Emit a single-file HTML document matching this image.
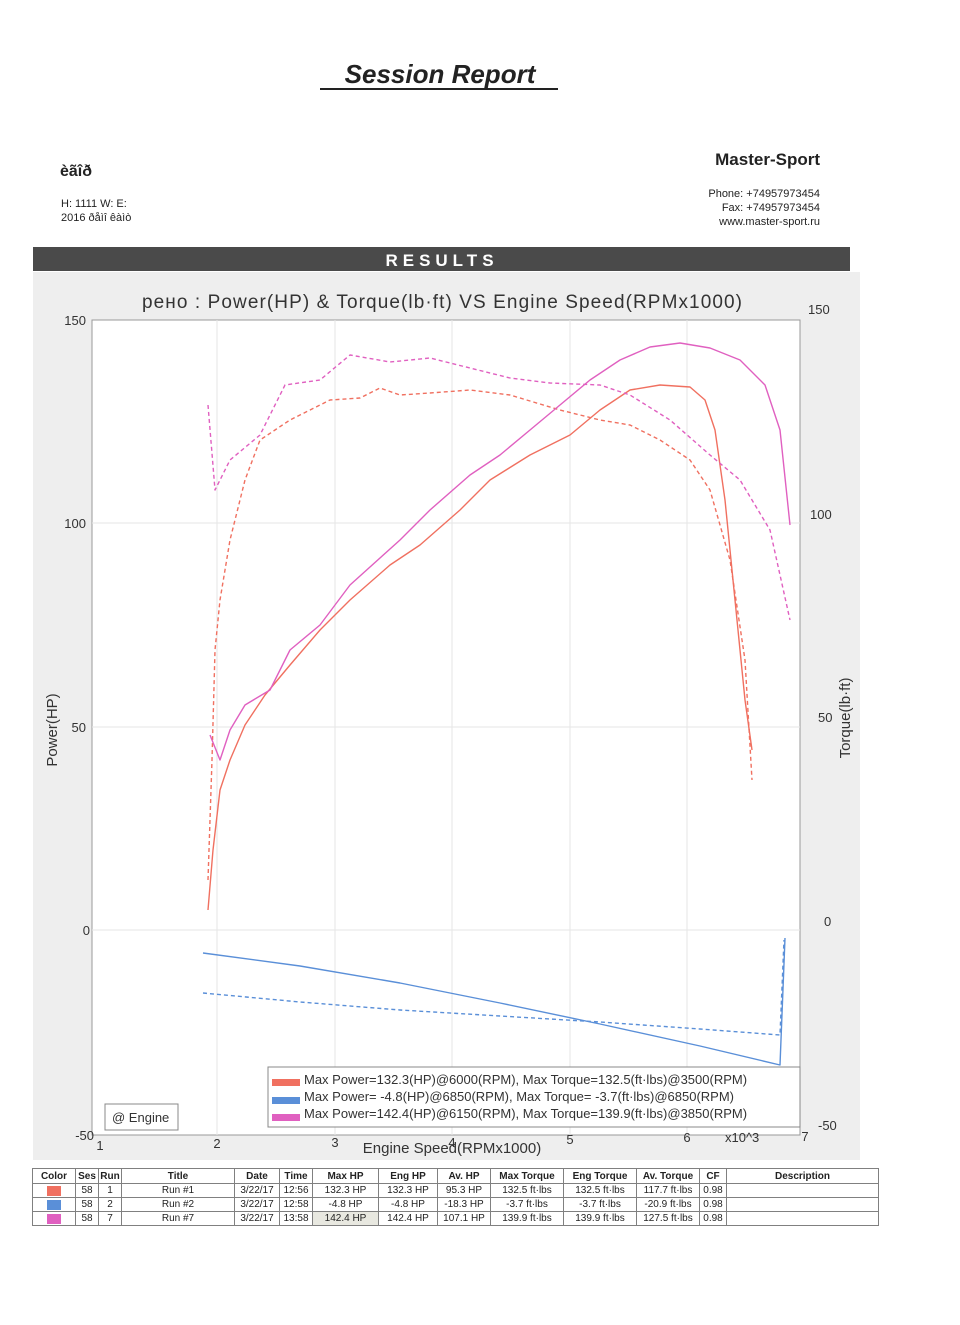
<!DOCTYPE html>
<html><head><meta charset="utf-8"><style>
html,body{margin:0;padding:0;background:#fff}
body{width:960px;height:1320px;position:relative;overflow:hidden;font-family:"Liberation Sans","DejaVu Sans",sans-serif}
td{padding:0 1px;white-space:nowrap;overflow:hidden}
</style></head><body>
<svg width="960" height="1320" viewBox="0 0 960 1320" xmlns="http://www.w3.org/2000/svg" font-family="Liberation Sans, DejaVu Sans, sans-serif">
<text x="440" y="83" font-size="26" font-weight="bold" font-style="italic" text-anchor="middle" fill="#222">Session Report</text>
<line x1="320" y1="89" x2="558" y2="89" stroke="#222" stroke-width="2"/>
<text x="60" y="176" font-size="16" font-weight="bold" fill="#222">èãîð</text>
<text x="61" y="207" font-size="11" fill="#222">H: 1111    W:       E:</text>
<text x="61" y="221" font-size="11" fill="#222">2016 ðåìî êàìò</text>
<text x="820" y="165" font-size="17" font-weight="bold" text-anchor="end" fill="#222">Master-Sport</text>
<text x="820" y="197" font-size="11" text-anchor="end" fill="#222">Phone: +74957973454</text>
<text x="820" y="211" font-size="11" text-anchor="end" fill="#222">Fax:    +74957973454</text>
<text x="820" y="225" font-size="11" text-anchor="end" fill="#222">www.master-sport.ru</text>
<rect x="33" y="247" width="817" height="24" fill="#4a4a4a"/>
<text x="442" y="266" font-size="17" font-weight="bold" letter-spacing="5" text-anchor="middle" fill="#fff">RESULTS</text>
<rect x="33" y="272" width="827" height="888" fill="#eeeeee"/>
<rect x="92" y="320" width="708" height="815" fill="#fff" stroke="#999" stroke-width="1"/>
<text x="442" y="308" font-size="19" text-anchor="middle" fill="#333" textLength="600">рено : Power(HP) &amp; Torque(lb·ft) VS Engine Speed(RPMx1000)</text>
<g stroke="#e6e6e6" stroke-width="1">
<line x1="92" y1="523" x2="800" y2="523"/><line x1="92" y1="727" x2="800" y2="727"/><line x1="92" y1="930" x2="800" y2="930"/>
<line x1="217" y1="320" x2="217" y2="1135"/><line x1="335" y1="320" x2="335" y2="1135"/><line x1="452" y1="320" x2="452" y2="1135"/><line x1="570" y1="320" x2="570" y2="1135"/><line x1="687" y1="320" x2="687" y2="1135"/>
</g>
<g font-size="13" fill="#333">
<text x="86" y="325" text-anchor="end">150</text><text x="86" y="528" text-anchor="end">100</text><text x="86" y="732" text-anchor="end">50</text><text x="90" y="935" text-anchor="end">0</text><text x="94" y="1140" text-anchor="end">-50</text>
<text x="808" y="314">150</text><text x="810" y="519">100</text><text x="818" y="722">50</text><text x="824" y="926">0</text><text x="818" y="1130">-50</text>
<text x="100" y="1150" text-anchor="middle">1</text><text x="217" y="1148" text-anchor="middle">2</text><text x="335" y="1147" text-anchor="middle">3</text><text x="570" y="1144" text-anchor="middle">5</text><text x="687" y="1142" text-anchor="middle">6</text><text x="805" y="1141" text-anchor="middle">7</text>
<text x="725" y="1142">x10^3</text>
</g>
<text x="452" y="1153" font-size="15" text-anchor="middle" fill="#333">Engine Speed(RPMx1000)</text>
<text x="452" y="1147" font-size="13" text-anchor="middle" fill="#333">4</text>
<text transform="translate(57,730) rotate(-90)" font-size="15" text-anchor="middle" fill="#333">Power(HP)</text>
<text transform="translate(850,718) rotate(-90)" font-size="15" text-anchor="middle" fill="#333">Torque(lb·ft)</text>
<g fill="none" stroke-width="1.4" stroke-linejoin="round">
<polyline stroke="#f07060" points="208,910 213,850 220,790 230,760 245,725 265,695 290,665 320,630 350,600 390,565 420,545 460,510 490,480 530,455 570,435 600,410 630,390 660,385 690,387 705,400 715,430 725,500 735,600 745,700 752,750"/>
<polyline stroke="#f07060" stroke-dasharray="4,3" points="208,880 212,760 215,650 220,600 230,540 245,480 260,440 290,420 330,400 360,398 380,388 400,395 430,393 470,390 510,395 560,410 600,420 630,425 660,440 690,460 710,490 730,560 745,660 752,780"/>
<polyline stroke="#e060c0" points="210,735 220,760 230,730 245,705 270,690 290,650 320,625 350,585 400,540 430,510 470,475 500,455 530,430 560,405 590,380 620,360 650,347 680,343 710,348 740,360 765,385 780,430 790,525"/>
<polyline stroke="#e060c0" stroke-dasharray="4,3" points="208,405 215,490 230,460 260,435 285,385 320,380 350,355 390,362 430,358 470,368 510,378 550,383 600,385 630,395 670,420 710,455 740,480 770,530 790,620"/>
<polyline stroke="#5a8fd8" points="203,953 300,966 400,983 500,1003 600,1024 700,1046 780,1065 785,938"/>
<polyline stroke="#5a8fd8" stroke-dasharray="4,3" points="203,993 300,1002 400,1010 500,1016 600,1022 700,1029 780,1035 784,940"/>
</g>
<rect x="268" y="1067" width="532" height="60" fill="#fff" stroke="#888"/>
<rect x="272" y="1079" width="28" height="7" fill="#f07060"/>
<rect x="272" y="1097" width="28" height="7" fill="#5a8fd8"/>
<rect x="272" y="1114" width="28" height="7" fill="#e060c0"/>
<g font-size="13" fill="#333">
<text x="304" y="1084">Max Power=132.3(HP)@6000(RPM), Max Torque=132.5(ft·lbs)@3500(RPM)</text>
<text x="304" y="1101">Max Power= -4.8(HP)@6850(RPM), Max Torque= -3.7(ft·lbs)@6850(RPM)</text>
<text x="304" y="1118">Max Power=142.4(HP)@6150(RPM), Max Torque=139.9(ft·lbs)@3850(RPM)</text>
</g>
<rect x="105" y="1104" width="73" height="26" fill="#fff" stroke="#888"/>
<text x="112" y="1122" font-size="13" fill="#333">@ Engine</text>
</svg>
<table style="position:absolute;left:32px;top:1168px;width:847px;table-layout:fixed;border-collapse:collapse;font-size:10px;font-family:'Liberation Sans',sans-serif;color:#222" border="1" cellspacing="0">
<tr style="height:15px;font-weight:bold;text-align:center"><td style="width:40px">Color</td><td style="width:20px">Ses</td><td style="width:20px">Run</td><td style="width:110px">Title</td><td style="width:42px">Date</td><td style="width:30px">Time</td><td style="width:63px">Max HP</td><td style="width:56px">Eng HP</td><td style="width:50px">Av. HP</td><td style="width:70px">Max Torque</td><td style="width:70px">Eng Torque</td><td style="width:60px">Av. Torque</td><td style="width:24px">CF</td><td>Description</td></tr>
<tr style="height:14px;text-align:center"><td><div style="width:14px;height:10px;background:#f07060;margin:auto"></div></td><td>58</td><td>1</td><td>Run #1</td><td>3/22/17</td><td>12:56</td><td>132.3 HP</td><td>132.3 HP</td><td>95.3 HP</td><td>132.5 ft·lbs</td><td>132.5 ft·lbs</td><td>117.7 ft·lbs</td><td>0.98</td><td></td></tr>
<tr style="height:14px;text-align:center"><td><div style="width:14px;height:10px;background:#5a8fd8;margin:auto"></div></td><td>58</td><td>2</td><td>Run #2</td><td>3/22/17</td><td>12:58</td><td>-4.8 HP</td><td>-4.8 HP</td><td>-18.3 HP</td><td>-3.7 ft·lbs</td><td>-3.7 ft·lbs</td><td>-20.9 ft·lbs</td><td>0.98</td><td></td></tr>
<tr style="height:14px;text-align:center"><td><div style="width:14px;height:10px;background:#e060c0;margin:auto"></div></td><td>58</td><td>7</td><td>Run #7</td><td>3/22/17</td><td>13:58</td><td style="background:#e8e8e0">142.4 HP</td><td>142.4 HP</td><td>107.1 HP</td><td>139.9 ft·lbs</td><td>139.9 ft·lbs</td><td>127.5 ft·lbs</td><td>0.98</td><td></td></tr>
</table>
</body></html>
